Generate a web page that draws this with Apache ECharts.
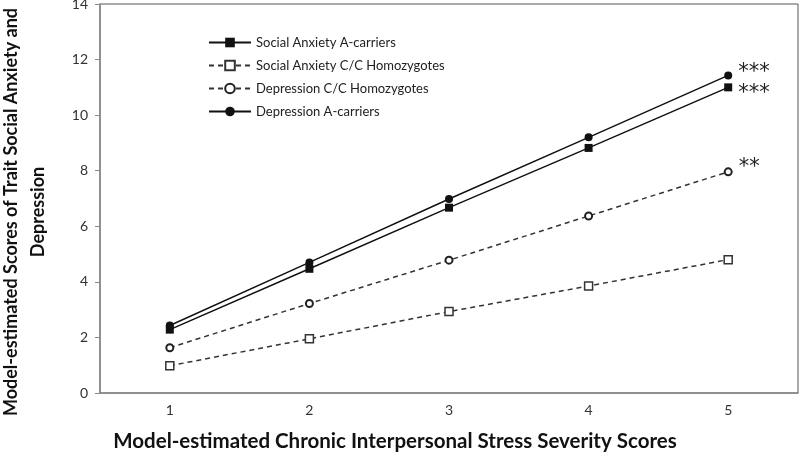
<!DOCTYPE html>
<html>
<head>
<meta charset="utf-8">
<script src="https://cdn.jsdelivr.net/npm/echarts@6/dist/echarts.min.js"></script>
<style>
  html, body { margin: 0; padding: 0; background: #fff; }
  #chart { width: 800px; height: 456px; }
</style>
</head>
<body>
<div id="chart"></div>
<script>
// stress severity levels
const categories = ['1', '2', '3', '4', '5'];

const saACarriers = [2.28, 4.47, 6.67, 8.82, 11.0];
const saCCHomo = [0.98, 1.95, 2.93, 3.85, 4.8];
const depCCHomo = [1.63, 3.22, 4.78, 6.37, 7.96];
const depACarriers = [2.43, 4.7, 6.98, 9.2, 11.43];

// significance marks at the last point
const saAStars = '***';
const depCCStars = '**';
const depAStars = '***';

const yTitle = 'Model-estimated Scores of Trait Social Anxiety and\nDepression';
const xTitle = 'Model-estimated Chronic Interpersonal Stress Severity Scores';

const font = 'Lato, "Open Sans", sans-serif';

const endLabel = (stars, dy) => ({
  show: true,
  position: 'right',
  distance: 6,
  offset: [0, dy],
  formatter: (p) => (p.dataIndex === categories.length - 1 ? stars : ''),
  fontSize: 21,
  fontFamily: 'DejaVu Sans',
  color: '#222'
});

const chart = echarts.init(document.getElementById('chart'));

chart.setOption({
  animation: false,
  textStyle: { fontFamily: font },
  grid: {
    left: 100,
    right: 2,
    top: 4,
    bottom: 63,
    outerBoundsMode: 'none',
    containLabel: false,
    show: true,
    borderColor: '#555',
    borderWidth: 1
  },
  title: {
    text: xTitle,
    left: 390,
    top: 426,
    textAlign: 'center',
    textStyle: { fontFamily: font, fontSize: 20.5, fontWeight: 'bold', color: '#111' }
  },
  graphic: [
    {
      type: 'text',
      x: 25,
      y: 212,
      rotation: Math.PI / 2,
      style: {
        text: yTitle,
        font: 'bold 18px Lato, "Open Sans", sans-serif',
        fill: '#111',
        align: 'center',
        verticalAlign: 'middle',
        textAlign: 'center',
        textVerticalAlign: 'middle',
        lineHeight: 27
      }
    }
  ],
  legend: {
    orient: 'vertical',
    left: 203,
    top: 31,
    itemWidth: 42,
    itemHeight: 12,
    itemGap: 10,
    textStyle: { fontFamily: font, fontSize: 13, color: '#222' },
    data: [
      'Social Anxiety A-carriers',
      'Social Anxiety C/C Homozygotes',
      'Depression C/C Homozygotes',
      'Depression A-carriers'
    ]
  },
  xAxis: {
    type: 'category',
    data: categories,
    boundaryGap: true,
    axisLine: { lineStyle: { color: '#888', width: 1.5 } },
    axisTick: { show: false },
    axisLabel: { fontSize: 14, color: '#333', margin: 10 },
    splitLine: { show: false }
  },
  yAxis: {
    type: 'value',
    min: 0,
    max: 14,
    interval: 2,
    axisLine: { show: true, lineStyle: { color: '#888', width: 1.5 } },
    axisTick: { show: true, length: 5, lineStyle: { color: '#888' } },
    axisLabel: { fontSize: 14, color: '#333', margin: 12 },
    splitLine: { show: false }
  },
  series: [
    {
      name: 'Social Anxiety A-carriers',
      type: 'line',
      data: saACarriers,
      symbol: 'rect',
      symbolSize: 8,
      itemStyle: { color: '#111' },
      lineStyle: { color: '#111', width: 1.5 },
      label: endLabel(saAStars, 6)
    },
    {
      name: 'Social Anxiety C/C Homozygotes',
      type: 'line',
      data: saCCHomo,
      symbol: 'rect',
      symbolSize: 8,
      itemStyle: { color: '#fff', borderColor: '#333', borderWidth: 1.5 },
      lineStyle: { color: '#333', width: 1.5, type: [5, 4] }
    },
    {
      name: 'Depression C/C Homozygotes',
      type: 'line',
      data: depCCHomo,
      symbol: 'circle',
      symbolSize: 7,
      itemStyle: { color: '#fff', borderColor: '#222', borderWidth: 2 },
      lineStyle: { color: '#333', width: 1.5, type: [5, 4] },
      label: endLabel(depCCStars, -4)
    },
    {
      name: 'Depression A-carriers',
      type: 'line',
      data: depACarriers,
      symbol: 'circle',
      symbolSize: 8,
      itemStyle: { color: '#111' },
      lineStyle: { color: '#111', width: 1.5 },
      label: endLabel(depAStars, -3)
    }
  ]
});
</script>
</body>
</html>
